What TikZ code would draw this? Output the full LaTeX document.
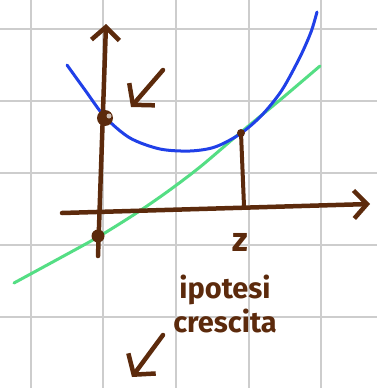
\documentclass[tikz,border=0pt]{standalone}
\usepackage{fontspec}
\setsansfont{Fira Sans}
\usepackage{xcolor}
\usetikzlibrary{positioning,arrows.meta}

\definecolor{ink}{RGB}{92,42,12}
\definecolor{curveblue}{RGB}{32,64,232}
\definecolor{linegreen}{RGB}{84,222,132}
\definecolor{gridgray}{RGB}{205,205,205}

\begin{document}
\begin{tikzpicture}[
    x=1pt, y=-1pt,
    gridline/.style={gridgray, line width=1.6pt},
    axis/.style={ink, line width=4.5pt, line cap=round, -{Straight Barb[length=13pt, width=28pt, line width=4.5pt]}},
    pointer/.style={ink, line width=4.5pt, line cap=round, -{Straight Barb[length=14pt, width=34pt, line width=4.5pt]}},
    dot/.style={circle, fill=ink, inner sep=0pt, minimum size=#1},
    hand/.style={ink, font=\sffamily\bfseries\fontsize{29}{32}\selectfont, align=center, inner sep=0pt}
]
\useasboundingbox (0,0) rectangle (377,388);
\fill[white] (0,0) rectangle (377,388);

% Squared paper
\foreach \gx in {31,103,176,249,321}
  \draw[gridline] (\gx,0) -- (\gx,388);
\foreach \gy in {29,101,173,245,317}
  \draw[gridline] (0,\gy) -- (377,\gy);

% Green line (ipotesi)
\draw[linegreen, line width=3pt, line cap=round] plot[smooth] coordinates
  {(14,283) (60,258) (98,237) (135,214) (167,192) (200,167) (240,133) (280,100) (320,66)};

% Blue curve
\draw[curveblue, line width=3pt, line cap=round] plot[smooth] coordinates
  {(67,65) (85,90) (105,117) (130,138) (160,149) (190,151) (215,147) (240,134) (262,115) (282,90) (300,57) (311,32) (317,12)};

% Axes
\coordinate (ybase) at (98,256);
\coordinate (ytip) at (106,24);
\coordinate (xbase) at (62,213);
\coordinate (xtip) at (370,204);
\draw[axis] (ybase) -- (ytip);
\draw[axis] (xbase) -- (xtip);

% Points on the y axis
\node[dot=16pt] (ytop) at (105,118) {};
\fill[white!70!ink] (109,116) circle (2.5pt);
\node[dot=13pt] (ybot) at (98,236) {};

% Tangent point and drop to the x axis
\coordinate (tang) at (241,133);
\coordinate (zfoot) at (244,206);
\draw[ink, line width=4pt, line cap=round] (tang) -- (zfoot);
\fill[ink] (tang) circle (4pt);
\node[hand, font=\sffamily\bfseries\fontsize{34}{36}\selectfont] (zlab) at (240,242) {z};

% Pointers
\coordinate (p1) at (163,70);
\coordinate (p2) at (131,107);
\draw[pointer] (p1) -- (p2);
\node[hand] (hyp) at (225,290) {ipotesi};
\node[hand, below=4pt of hyp.south, anchor=north] (growth) {crescita};
\coordinate (q1) at (163,335);
\coordinate (q2) at (132,377);
\draw[pointer] (q1) -- (q2);
\end{tikzpicture}
\end{document}
